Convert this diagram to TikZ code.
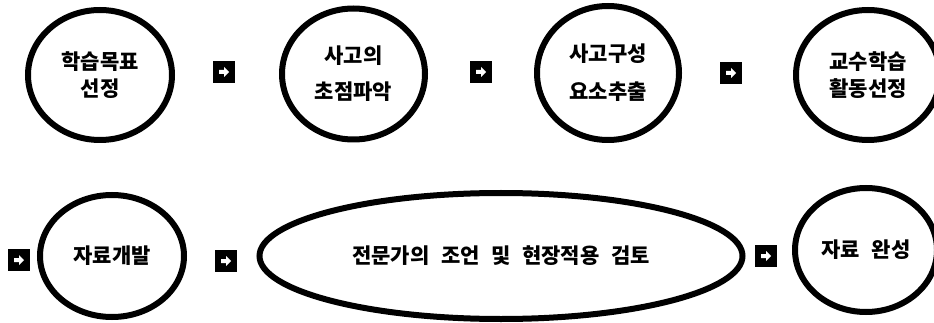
\documentclass[tikz,border=0pt]{standalone}
\usepackage{fontspec}
\setmainfont[WordSpace=2.4]{Noto Sans CJK KR}
\usetikzlibrary{shapes.geometric,calc}
\tikzset{
  stage/.style={ellipse, draw=black, line width=6pt, inner sep=0pt, align=center,
    font=\fontsize{21}{25}\selectfont\bfseries},
  arrowbox/.style={rectangle, fill=black, minimum width=22pt, minimum height=22pt, inner sep=0pt, outer sep=0pt,
    path picture={\fill[white] ($(path picture bounding box.center)+(-5pt,-2pt)$)
      -- ++(5pt,0) -- ++(0,-3pt) -- ++(5pt,5pt) -- ++(-5pt,5pt)
      -- ++(0,-3pt) -- ++(-5pt,0) -- cycle;}}
}
\begin{document}
\begin{tikzpicture}[x=1pt,y=-1pt]
\useasboundingbox (0,0) rectangle (934,323);
\fill[white] (0,0) rectangle (934,323);
% top row
\node[stage, minimum width=144pt, minimum height=130pt] (c1) at (100,75) {학습목표\\[2pt]선정};
\node[arrowbox] (s1) at (224,72) {};
\node[stage, minimum width=143pt, minimum height=131pt] (c2) at (353.5,74) {사고의\\[11pt]초점파악};
\node[arrowbox] (s2) at (481,72) {};
\node[stage, minimum width=142pt, minimum height=134pt] (c3) at (608,73) {사고구성\\[13pt]요소추출};
\node[arrowbox] (s3) at (731,73) {};
\node[stage, minimum width=144pt, minimum height=130pt] (c4) at (868,75) {교수학습\\[2pt]활동선정};
% bottom row
\node[arrowbox] (s4) at (19,260) {};
\node[stage, minimum width=144pt, minimum height=122pt] (c5) at (112,256) {자료개발};
\node[arrowbox] (s5) at (226,261) {};
\node[stage, minimum width=483pt, minimum height=126pt] (c6) at (501,256) {전문가의 조언 및 현장적용 검토};
\node[arrowbox] (s6) at (766,256) {};
\node[stage, minimum width=142pt, minimum height=124pt] (c7) at (866,250) {자료 완성};
\end{tikzpicture}
\end{document}
